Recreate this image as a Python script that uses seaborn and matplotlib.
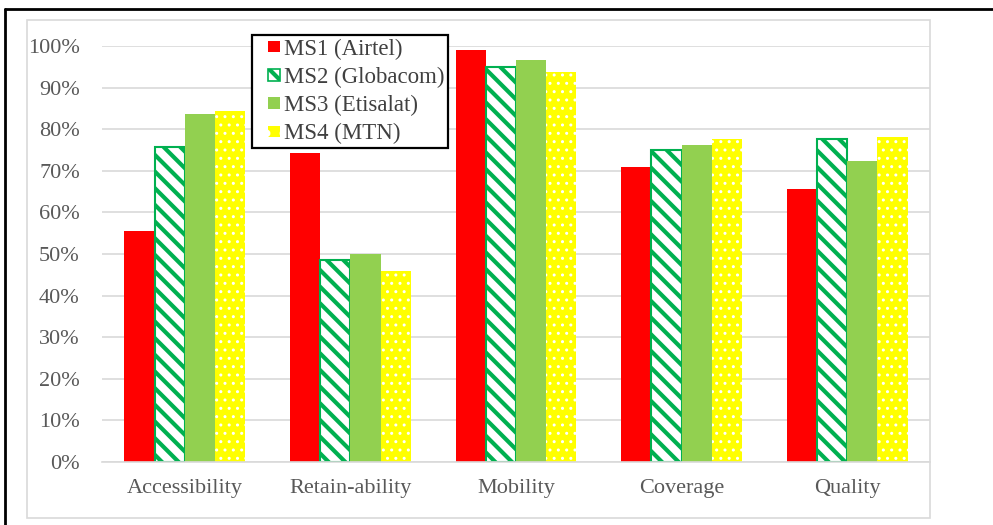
import matplotlib
matplotlib.use("Agg")
import matplotlib.pyplot as plt
import matplotlib.patches as mpatches
from matplotlib.legend_handler import HandlerPatch
from matplotlib.lines import Line2D
from matplotlib.ticker import PercentFormatter
import seaborn as sns
import pandas as pd

categories = ["Accessibility", "Retain-ability", "Mobility", "Coverage", "Quality"]
operators = ["MS1 (Airtel)", "MS2 (Globacom)", "MS3 (Etisalat)", "MS4 (MTN)"]
ms1_airtel = [55.5, 74.3, 99.0, 70.9, 65.6]
ms2_globacom = [75.7, 48.6, 95.0, 75.0, 77.6]
ms3_etisalat = [83.7, 50.0, 96.6, 76.2, 72.4]
ms4_mtn = [84.4, 45.9, 93.7, 77.6, 78.1]
y_ticks = [0, 10, 20, 30, 40, 50, 60, 70, 80, 90, 100]

series = [ms1_airtel, ms2_globacom, ms3_etisalat, ms4_mtn]
df = pd.DataFrame(
    [(c, op, v) for op, vals in zip(operators, series) for c, v in zip(categories, vals)],
    columns=["Category", "Operator", "Value"],
)

sns.set_theme(style="white")
plt.rcParams["font.family"] = ["Liberation Serif", "DejaVu Serif"]
plt.rcParams["hatch.linewidth"] = 3.0

TEXT = "#595959"
GRID = "#d9d9d9"
RED, DKGREEN, LTGREEN, YELLOW = "#FF0000", "#00B050", "#92D050", "#FFFF00"


def set_hatch_lw(patch, lw):
    if hasattr(patch, "set_hatch_linewidth"):
        patch.set_hatch_linewidth(lw)


fig = plt.figure(figsize=(9.93, 5.25), dpi=100)
ax = fig.add_axes([0.1027, 0.12, 0.8338, 0.7924])

sns.barplot(data=df, x="Category", y="Value", hue="Operator", order=categories,
            hue_order=operators, width=0.73, gap=0, ax=ax, legend=False,
            saturation=1)

styles = [
    dict(facecolor=RED, edgecolor=RED, hatch=None, linewidth=0, hlw=None),
    dict(facecolor="white", edgecolor=DKGREEN, hatch="\\\\", linewidth=1.5, hlw=3.0),
    dict(facecolor=LTGREEN, edgecolor=LTGREEN, hatch=None, linewidth=0, hlw=None),
    dict(facecolor=YELLOW, edgecolor="white", hatch="..", linewidth=0, hlw=1.0),
]
for cont, st in zip(ax.containers, styles):
    for bar in cont:
        bar.set_facecolor(st["facecolor"])
        bar.set_edgecolor(st["edgecolor"])
        bar.set_linewidth(st["linewidth"])
        if st["hatch"]:
            bar.set_hatch(st["hatch"])
            set_hatch_lw(bar, st["hlw"])

ax.set_ylim(0, 100)
ax.set_yticks(y_ticks)
ax.yaxis.set_major_formatter(PercentFormatter(decimals=0))
ax.set_xlim(-0.5, len(categories) - 0.5)
ax.grid(axis="y", color=GRID, linewidth=1.2)
ax.set_axisbelow(True)
for s in ["top", "right", "left"]:
    ax.spines[s].set_visible(False)
ax.spines["bottom"].set_color(GRID)
ax.spines["bottom"].set_linewidth(1.2)
ax.set_xlabel("")
ax.set_ylabel("")
ax.tick_params(axis="both", length=0, labelsize=16, colors=TEXT)
ax.tick_params(axis="y", pad=16)
ax.tick_params(axis="x", pad=12)


# small square legend keys, set at the right end of the handle box
def square_key(legend, orig_handle, xdescent, ydescent, width, height, fontsize):
    side = 0.5 * fontsize
    return mpatches.Rectangle((width - xdescent - side, -ydescent + (height - side) / 2),
                              side, side)


handles = [
    mpatches.Patch(facecolor=RED, edgecolor=RED, linewidth=0),
    mpatches.Patch(facecolor="white", edgecolor=DKGREEN, hatch="\\\\", linewidth=1.2),
    mpatches.Patch(facecolor=LTGREEN, edgecolor=LTGREEN, linewidth=0),
    mpatches.Patch(facecolor=YELLOW, edgecolor="white", hatch=".", linewidth=0),
]
set_hatch_lw(handles[1], 2.0)
set_hatch_lw(handles[3], 1.0)
leg = fig.legend(handles, operators, loc="upper left",
                 handler_map={mpatches.Patch: HandlerPatch(patch_func=square_key)},
                 bbox_to_anchor=(252 / 993, 1 - 35 / 525), frameon=True, fancybox=False,
                 framealpha=1, edgecolor="black", fontsize=16.5, handlelength=1.05,
                 handleheight=0.7, handletextpad=0.2, labelspacing=0.31,
                 borderpad=0.15, borderaxespad=0)
leg.get_frame().set_linewidth(1.6)
for t in leg.get_texts():
    t.set_color("#404040")

# chart area border and outer frame
fig.add_artist(mpatches.Rectangle((27 / 993, 1 - 518 / 525), (930 - 27) / 993,
                                  (518 - 20) / 525, transform=fig.transFigure,
                                  fill=False, edgecolor=GRID, linewidth=1.2))
fig.add_artist(Line2D([5 / 993, 1], [1 - 9 / 525, 1 - 9 / 525],
                      transform=fig.transFigure, color="black", linewidth=2))
fig.add_artist(Line2D([5 / 993, 5 / 993], [0, 1 - 9 / 525],
                      transform=fig.transFigure, color="black", linewidth=2))

fig.savefig("out.png", dpi=100)
